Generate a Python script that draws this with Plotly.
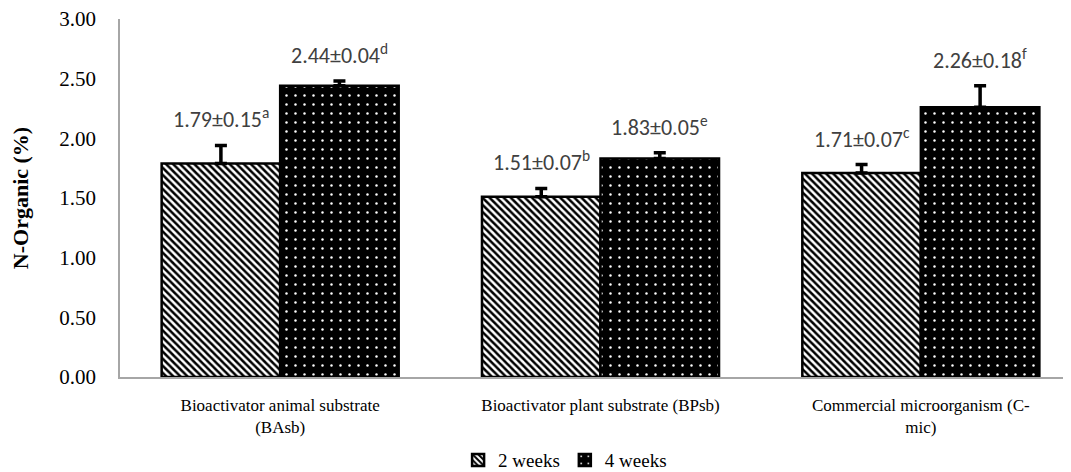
import plotly.graph_objects as go

categories = ["Bioactivator animal substrate<br>(BAsb)",
              "Bioactivator plant substrate (BPsb)",
              "Commercial microorganism (C-<br>mic)"]
weeks2 = [1.79, 1.51, 1.71]
weeks2_err = [0.15, 0.07, 0.07]
weeks2_letters = ["a", "b", "c"]
weeks4 = [2.44, 1.83, 2.26]
weeks4_err = [0.04, 0.05, 0.18]
weeks4_letters = ["d", "e", "f"]
y_ticks = [0, 0.5, 1.0, 1.5, 2.0, 2.5, 3.0]

x_idx = list(range(len(categories)))
SERIF = "Liberation Serif, Times New Roman, serif"
SANS = "Carlito, Liberation Sans, Arial, sans-serif"

fig = go.Figure()
fig.add_trace(go.Bar(
    name="2 weeks", x=x_idx, y=weeks2,
    marker=dict(color="white", line=dict(color="black", width=2.5),
                pattern=dict(shape="\\", fgcolor="black", bgcolor="white",
                             size=5, solidity=0.5, fillmode="replace")),
    error_y=dict(type="data", array=weeks2_err, arrayminus=[0]*3, symmetric=False,
                 color="black", thickness=3.5, width=6),
))
fig.add_trace(go.Bar(
    name="4 weeks", x=x_idx, y=weeks4,
    marker=dict(color="black", line=dict(color="black", width=2.5),
                pattern=dict(shape=".", fgcolor="white", bgcolor="black",
                             size=9, solidity=0.06, fillmode="replace")),
    error_y=dict(type="data", array=weeks4_err, arrayminus=[0]*3, symmetric=False,
                 color="black", thickness=3.5, width=6),
))

offset = 0.185
for i in x_idx:
    fig.add_annotation(x=i - offset, y=weeks2[i] + weeks2_err[i],
                       text=f"{weeks2[i]:.2f}±{weeks2_err[i]:.2f}<sup>{weeks2_letters[i]}</sup>",
                       showarrow=False, yshift=27, xanchor="center", yanchor="middle",
                       font=dict(family=SANS, size=22, color="#404040"))
    fig.add_annotation(x=i + offset, y=weeks4[i] + weeks4_err[i],
                       text=f"{weeks4[i]:.2f}±{weeks4_err[i]:.2f}<sup>{weeks4_letters[i]}</sup>",
                       showarrow=False, yshift=27, xanchor="center", yanchor="middle",
                       font=dict(family=SANS, size=22, color="#404040"))

fig.update_layout(
    width=1063, height=480,
    margin=dict(l=112, r=6, t=11, b=111),
    paper_bgcolor="white", plot_bgcolor="white",
    barmode="group", bargap=0.26, bargroupgap=0,
    font=dict(family=SERIF, size=17, color="black"),
    showlegend=True,
    legend=dict(orientation="h", x=0.471, xanchor="center", y=-0.232, yanchor="middle",
                font=dict(family=SERIF, size=19, color="black"),
                itemwidth=30, tracegroupgap=0, bgcolor="rgba(0,0,0,0)"),
    xaxis=dict(tickmode="array", tickvals=x_idx, ticktext=categories,
               range=[-0.5, 2.45], showline=True, linecolor="#a6a6a6", linewidth=1.5,
               ticks="", showgrid=False, zeroline=False, automargin=False,
               ticklabelstandoff=12,
               tickfont=dict(family=SERIF, size=17, color="black")),
    yaxis=dict(range=[0, 3.0], tickmode="array", tickvals=y_ticks,
               ticktext=[f"{v:.2f}" for v in y_ticks],
               showline=True, linecolor="#a6a6a6", linewidth=1.5, ticks="",
               showgrid=False, zeroline=False, automargin=False,
               ticklabelstandoff=18, ticklabeloverflow="allow",
               title=dict(text="<b>N-Organic (%)</b>", standoff=28,
                          font=dict(family=SERIF, size=22, color="black")),
               tickfont=dict(family=SERIF, size=21, color="black")),
)

fig.write_html("out.html")
